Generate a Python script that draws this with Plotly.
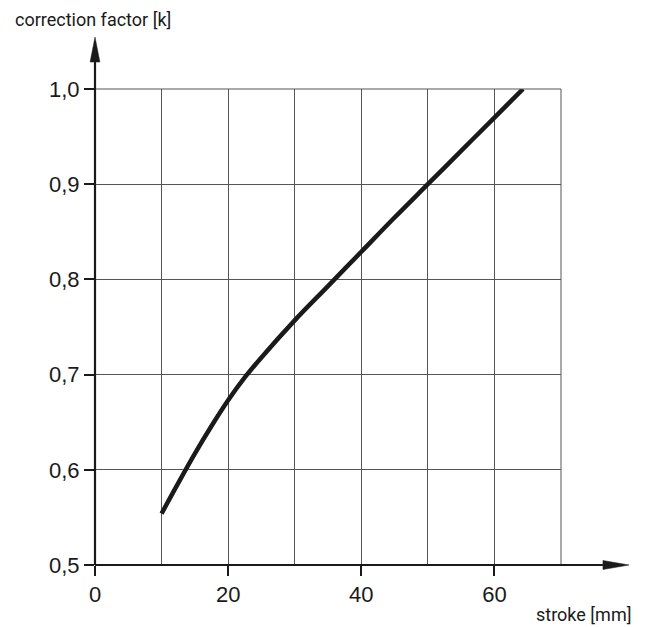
import plotly.graph_objects as go

# Data
stroke_mm = [10, 12.5, 15, 17.5, 20, 22.5, 25, 30, 35, 40, 45, 50, 55, 60, 64.3]
correction_k = [0.554, 0.586, 0.617, 0.646, 0.673, 0.697, 0.718, 0.757, 0.793, 0.829, 0.865, 0.900, 0.935, 0.970, 1.0]

x_ticks = [0, 20, 40, 60]
y_ticks = [0.5, 0.6, 0.7, 0.8, 0.9, 1.0]
y_tick_labels = ["0,5", "0,6", "0,7", "0,8", "0,9", "1,0"]

fig = go.Figure()
fig.add_trace(go.Scatter(
    x=stroke_mm, y=correction_k, mode="lines",
    line=dict(color="#1a1a1a", width=4.5, shape="spline", smoothing=1.0),
    hoverinfo="skip", showlegend=False,
))

grid_col = "#555555"
label_font = dict(family="Liberation Sans, Arial, sans-serif", size=22, color="#1a1a1a")

fig.update_xaxes(
    range=[0, 70], tickvals=x_ticks, ticktext=[str(v) for v in x_ticks],
    ticks="outside", ticklen=10, tickwidth=1.5, tickcolor="#1a1a1a",
    showgrid=True, gridcolor=grid_col, gridwidth=1,
    minor=dict(dtick=10, tick0=0, showgrid=True, gridcolor=grid_col, gridwidth=1),
    zeroline=False, showline=False, tickfont=label_font, fixedrange=True,
)
fig.update_yaxes(
    range=[0.5, 1.0], tickvals=y_ticks, ticktext=y_tick_labels,
    ticks="outside", ticklen=10, tickwidth=1.5, tickcolor="#1a1a1a",
    showgrid=True, gridcolor=grid_col, gridwidth=1,
    zeroline=False, showline=False, tickfont=label_font, fixedrange=True,
)

shapes = [
    # border lines
    dict(type="line", xref="paper", yref="paper", x0=1, x1=1, y0=0, y1=1,
         line=dict(color=grid_col, width=1)),
    dict(type="line", xref="paper", yref="paper", x0=0, x1=1, y0=1, y1=1,
         line=dict(color=grid_col, width=1)),
    # axis lines
    dict(type="line", xref="paper", yref="paper", x0=0, x1=0, y0=0, y1=1.06,
         line=dict(color="#1a1a1a", width=2.2)),
    dict(type="line", xref="paper", yref="paper", x0=0, x1=1.09, y0=0, y1=0,
         line=dict(color="#1a1a1a", width=2.2)),
    # arrowheads
    dict(type="path", xref="paper", yref="paper",
         path="M -0.0105 1.0567 L 0.0105 1.0567 L 0 1.109 Z",
         fillcolor="#1a1a1a", line=dict(color="#1a1a1a", width=0.5)),
    dict(type="path", xref="paper", yref="paper",
         path="M 1.090 -0.0095 L 1.090 0.0095 L 1.146 0 Z",
         fillcolor="#1a1a1a", line=dict(color="#1a1a1a", width=0.5)),
]

annotations = [
    dict(text="correction factor [k]", xref="paper", yref="paper",
         x=-0.176, y=1.146, xanchor="left", yanchor="middle", showarrow=False,
         font=dict(family="Roboto, sans-serif", size=18, color="#1a1a1a")),
    dict(text="stroke [mm]", xref="paper", yref="paper",
         x=1.155, y=-0.103, xanchor="right", yanchor="middle", showarrow=False,
         font=dict(family="Roboto, sans-serif", size=18, color="#1a1a1a")),
]

# The page body has an 8px margin, so the figure is 8px smaller than the window
fig.update_layout(
    width=637, height=619,
    margin=dict(l=87, r=84, t=81, b=62),
    paper_bgcolor="white", plot_bgcolor="white",
    shapes=shapes, annotations=annotations,
)

fig.write_html("out.html")
